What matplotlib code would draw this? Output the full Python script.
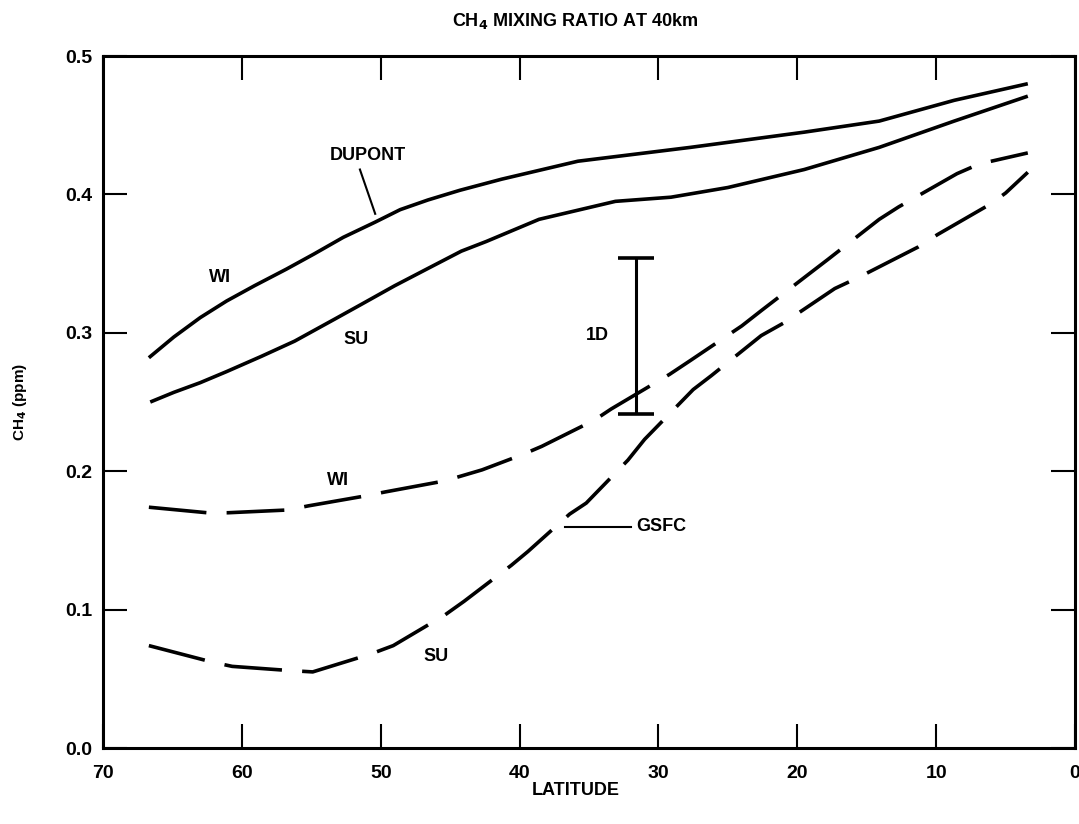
import matplotlib

matplotlib.use("Agg")
import matplotlib.pyplot as plt

plt.rcParams.update({"font.family": ["Liberation Sans Narrow", "Liberation Sans", "DejaVu Sans"],
                     "font.weight": "bold"})

# DUPONT model, winter and summer
dupont_wi_lat = [66.7, 64.9, 63.0, 61.1, 59.1, 56.8, 54.8, 52.7, 50.4, 48.6, 46.6, 44.3, 41.3,
                 35.8, 27.7, 19.5, 14.1, 8.7, 3.4]
dupont_wi_ch4 = [0.282, 0.297, 0.311, 0.323, 0.334, 0.346, 0.357, 0.369, 0.380, 0.389, 0.396,
                 0.403, 0.411, 0.424, 0.434, 0.445, 0.453, 0.468, 0.480]

dupont_su_lat = [66.6, 64.9, 63.0, 61.1, 58.6, 56.2, 53.3, 51.5, 49.0, 46.7, 44.2, 42.4, 40.5,
                 38.6, 33.1, 29.1, 25.0, 19.5, 14.1, 8.7, 3.4]
dupont_su_ch4 = [0.250, 0.257, 0.264, 0.272, 0.283, 0.294, 0.310, 0.320, 0.334, 0.346, 0.359,
                 0.366, 0.374, 0.382, 0.395, 0.398, 0.405, 0.418, 0.434, 0.453, 0.471]

# GSFC model, winter and summer
gsfc_wi_lat = [66.7, 62.5, 61.0, 56.7, 55.2, 51.2, 49.7, 45.4, 42.7, 39.8, 38.4, 34.6, 33.4, 29.2,
               27.7, 24.0, 22.6, 19.1, 17.8, 14.1, 12.7, 8.5, 6.9, 3.4]
gsfc_wi_ch4 = [0.174, 0.170, 0.170, 0.172, 0.175, 0.182, 0.185, 0.193, 0.201, 0.212, 0.218, 0.237,
               0.245, 0.270, 0.280, 0.305, 0.316, 0.343, 0.353, 0.382, 0.391, 0.415, 0.422, 0.430]

gsfc_su_lat = [66.7, 62.1, 60.7, 56.6, 54.9, 50.7, 49.1, 45.4, 44.0, 40.6, 39.4, 36.4, 35.2, 32.2,
               31.0, 27.5, 26.2, 22.6, 21.0, 17.3, 15.6, 11.3, 9.9, 6.1, 5.0, 3.4]
gsfc_su_ch4 = [0.074, 0.062, 0.059, 0.056, 0.055, 0.068, 0.074, 0.096, 0.106, 0.132, 0.142, 0.169,
               0.177, 0.208, 0.223, 0.259, 0.269, 0.298, 0.307, 0.332, 0.340, 0.362, 0.371, 0.393,
               0.401, 0.416]

# 1-D model range
oned_lat = 31.6
oned_low, oned_high = 0.241, 0.354

xticks = [70, 60, 50, 40, 30, 20, 10, 0]
yticks = [0.0, 0.1, 0.2, 0.3, 0.4, 0.5]

fig = plt.figure(figsize=(10.79, 8.24), dpi=100)
ax = fig.add_axes([0.0955, 0.0922, 0.9008, 0.8398])

lw = 2.6
dash = (0, (16.0, 5.6))
ax.plot(dupont_wi_lat, dupont_wi_ch4, color="black", lw=lw, solid_capstyle="butt")
ax.plot(dupont_su_lat, dupont_su_ch4, color="black", lw=lw, solid_capstyle="butt")
ax.plot(gsfc_wi_lat, gsfc_wi_ch4, color="black", lw=lw, ls=dash)
ax.plot(gsfc_su_lat, gsfc_su_ch4, color="black", lw=lw, ls=dash)

ax.errorbar([oned_lat], [(oned_low + oned_high) / 2], yerr=[(oned_high - oned_low) / 2],
            fmt="none", ecolor="black", elinewidth=2.2, capsize=13, capthick=2.6)

ax.set_xlim(70, 0)
ax.set_ylim(0, 0.5)
ax.set_xticks(xticks)
ax.set_yticks(yticks)
ax.set_xticklabels([str(v) for v in xticks])
ax.set_yticklabels([f"{v:.1f}" for v in yticks])
ax.tick_params(direction="in", length=17, width=1.5, labelsize=14,
               top=True, right=True)
ax.tick_params(axis="x", pad=12)
ax.tick_params(axis="y", pad=8)
for s in ax.spines.values():
    s.set_linewidth(2.2)

lab = dict(fontsize=13, fontweight="bold", ha="center", va="center")
ax.text(50.9, 0.428, "DUPONT", **lab)
ax.plot([51.5, 50.4], [0.418, 0.386], color="black", lw=1.5)
ax.text(61.6, 0.340, "WI", **lab)
ax.text(51.8, 0.295, "SU", **lab)
ax.text(53.1, 0.193, "WI", **lab)
ax.text(46.0, 0.066, "SU", **lab)
ax.text(34.4, 0.298, "1D", **lab)
ax.plot([36.7, 32.0], [0.160, 0.160], color="black", lw=1.5)
ax.text(31.6, 0.160, "GSFC", fontsize=13, fontweight="bold", ha="left", va="center")

fig.text(0.533, 0.975, "CH$_4$ MIXING RATIO AT 40km", fontsize=13, fontweight="bold",
         ha="center", va="center")
ax.set_xlabel("LATITUDE", fontsize=13, fontweight="bold", va="center")
ax.xaxis.set_label_coords(0.486, -0.061)
ax.set_ylabel("CH$_4$ (ppm)", fontsize=11, fontweight="bold", labelpad=26)

fig.savefig("out.png", dpi=100)
